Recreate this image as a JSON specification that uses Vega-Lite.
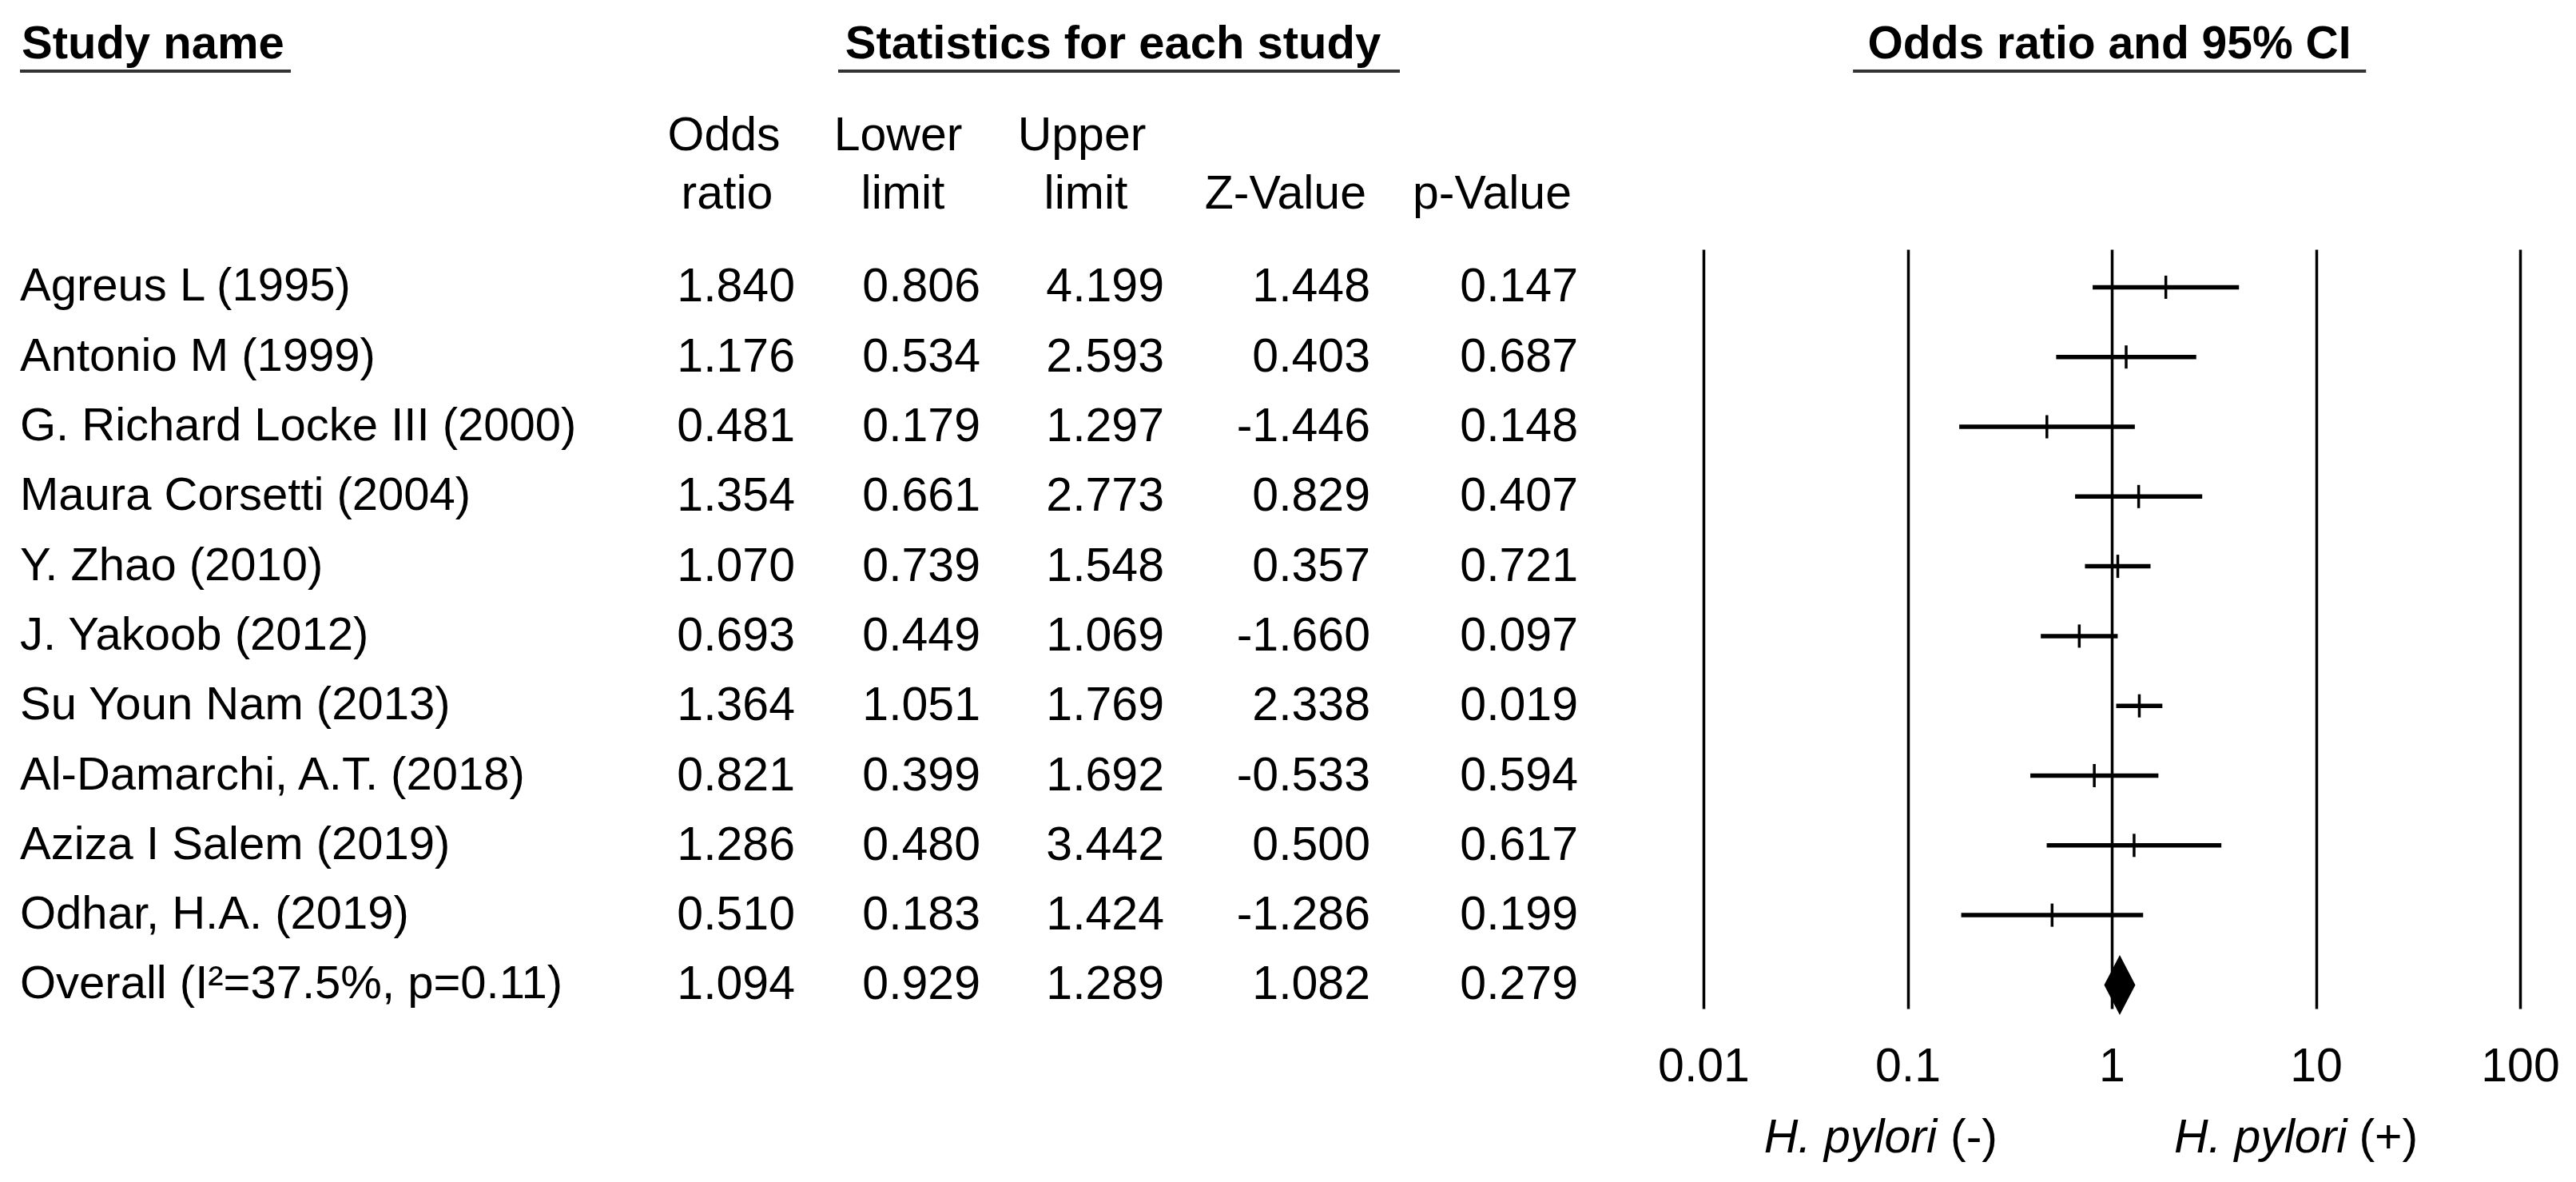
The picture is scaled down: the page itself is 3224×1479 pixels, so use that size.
{
  "$schema": "https://vega.github.io/schema/vega-lite/v6.json",
  "background": "white",
  "padding": {"left": 23, "top": 26, "right": 0, "bottom": 0},
  "config": {
    "view": {"stroke": null},
    "font": "Liberation Sans",
    "text": {"font": "Liberation Sans", "fontSize": 59, "color": "black"},
    "locale": {"number": {"decimal": ".", "thousands": ",", "grouping": [3], "currency": ["$", ""], "minus": "-"}}
  },
  "data": {"values": [
    {"row": 1, "study": "Agreus L (1995)", "or": 1.840, "lo": 0.806, "hi": 4.199, "z": 1.448, "p": 0.147, "type": "study"},
    {"row": 2, "study": "Antonio M (1999)", "or": 1.176, "lo": 0.534, "hi": 2.593, "z": 0.403, "p": 0.687, "type": "study"},
    {"row": 3, "study": "G. Richard Locke III (2000)", "or": 0.481, "lo": 0.179, "hi": 1.297, "z": -1.446, "p": 0.148, "type": "study"},
    {"row": 4, "study": "Maura Corsetti (2004)", "or": 1.354, "lo": 0.661, "hi": 2.773, "z": 0.829, "p": 0.407, "type": "study"},
    {"row": 5, "study": "Y. Zhao (2010)", "or": 1.070, "lo": 0.739, "hi": 1.548, "z": 0.357, "p": 0.721, "type": "study"},
    {"row": 6, "study": "J. Yakoob (2012)", "or": 0.693, "lo": 0.449, "hi": 1.069, "z": -1.660, "p": 0.097, "type": "study"},
    {"row": 7, "study": "Su Youn Nam (2013)", "or": 1.364, "lo": 1.051, "hi": 1.769, "z": 2.338, "p": 0.019, "type": "study"},
    {"row": 8, "study": "Al-Damarchi, A.T. (2018)", "or": 0.821, "lo": 0.399, "hi": 1.692, "z": -0.533, "p": 0.594, "type": "study"},
    {"row": 9, "study": "Aziza I Salem (2019)", "or": 1.286, "lo": 0.480, "hi": 3.442, "z": 0.500, "p": 0.617, "type": "study"},
    {"row": 10, "study": "Odhar, H.A. (2019)", "or": 0.510, "lo": 0.183, "hi": 1.424, "z": -1.286, "p": 0.199, "type": "study"},
    {"row": 11, "study": "Overall (I²=37.5%, p=0.11)", "or": 1.094, "lo": 0.929, "hi": 1.289, "z": 1.082, "p": 0.279, "type": "overall"}
  ]},
  "bounds": "flush",
  "spacing": 0,
  "hconcat": [
    {
      "width": 339, "height": 950,
      "layer": [
        {"mark": {"type": "text", "align": "left", "baseline": "middle", "fontSize": 58},
         "encoding": {"x": {"value": 0},
                      "y": {"field": "row", "type": "quantitative", "scale": {"domain": [0.457, 11.339], "reverse": true, "nice": false, "zero": false}, "axis": null},
                      "text": {"field": "study", "type": "nominal"}}},
        {"data": {"values": [{}]},
         "mark": {"type": "text", "align": "left", "baseline": "middle", "fontWeight": "bold", "fontSize": 58, "dx": 2},
         "encoding": {"x": {"value": 0}, "y": {"datum": -2.481}, "text": {"value": "Study name"}}},
        {"data": {"values": [{}]},
         "mark": {"type": "rule", "strokeWidth": 4, "color": "#333333"},
         "encoding": {"x": {"value": 0}, "x2": {"value": "width"}, "y": {"datum": -2.097}}}
      ]
    },
    {
      "width": 631, "height": 950,
      "layer": [
        {"mark": {"type": "text", "align": "right", "baseline": "middle"},
         "encoding": {"x": {"value": "width"},
                      "y": {"field": "row", "type": "quantitative", "scale": {"domain": [0.457, 11.339], "reverse": true, "nice": false, "zero": false}, "axis": null},
                      "text": {"field": "or", "type": "quantitative", "format": ".3f"}}},
        {"data": {"values": [{}]},
         "mark": {"type": "text", "align": "center", "baseline": "middle", "dx": -89},
         "encoding": {"x": {"value": "width"}, "y": {"datum": -1.170}, "text": {"value": "Odds"}}},
        {"data": {"values": [{}]},
         "mark": {"type": "text", "align": "center", "baseline": "middle", "dx": -85},
         "encoding": {"x": {"value": "width"}, "y": {"datum": -0.333}, "text": {"value": "ratio"}}}
      ]
    },
    {
      "width": 232, "height": 950,
      "layer": [
        {"mark": {"type": "text", "align": "right", "baseline": "middle"},
         "encoding": {"x": {"value": "width"},
                      "y": {"field": "row", "type": "quantitative", "scale": {"domain": [0.457, 11.339], "reverse": true, "nice": false, "zero": false}, "axis": null},
                      "text": {"field": "lo", "type": "quantitative", "format": ".3f"}}},
        {"data": {"values": [{}]},
         "mark": {"type": "text", "align": "center", "baseline": "middle", "dx": -103},
         "encoding": {"x": {"value": "width"}, "y": {"datum": -1.170}, "text": {"value": "Lower"}}},
        {"data": {"values": [{}]},
         "mark": {"type": "text", "align": "center", "baseline": "middle", "dx": -97},
         "encoding": {"x": {"value": "width"}, "y": {"datum": -0.333}, "text": {"value": "limit"}}}
      ]
    },
    {
      "width": 230, "height": 950,
      "layer": [
        {"mark": {"type": "text", "align": "right", "baseline": "middle"},
         "encoding": {"x": {"value": "width"},
                      "y": {"field": "row", "type": "quantitative", "scale": {"domain": [0.457, 11.339], "reverse": true, "nice": false, "zero": false}, "axis": null},
                      "text": {"field": "hi", "type": "quantitative", "format": ".3f"}}},
        {"data": {"values": [{}]},
         "mark": {"type": "text", "align": "center", "baseline": "middle", "dx": -103},
         "encoding": {"x": {"value": "width"}, "y": {"datum": -1.170}, "text": {"value": "Upper"}}},
        {"data": {"values": [{}]},
         "mark": {"type": "text", "align": "center", "baseline": "middle", "dx": -98},
         "encoding": {"x": {"value": "width"}, "y": {"datum": -0.333}, "text": {"value": "limit"}}},
        {"data": {"values": [{}]},
         "mark": {"type": "text", "align": "center", "baseline": "middle", "fontWeight": "bold", "fontSize": 58, "dx": -64},
         "encoding": {"x": {"value": "width"}, "y": {"datum": -2.481}, "text": {"value": "Statistics for each study"}}},
        {"data": {"values": [{}]},
         "mark": {"type": "rule", "strokeWidth": 4, "color": "#333333", "xOffset": -178, "x2Offset": 295},
         "encoding": {"x": {"value": 0}, "x2": {"value": "width"}, "y": {"datum": -2.097}}}
      ]
    },
    {
      "width": 258, "height": 950,
      "layer": [
        {"mark": {"type": "text", "align": "right", "baseline": "middle"},
         "encoding": {"x": {"value": "width"},
                      "y": {"field": "row", "type": "quantitative", "scale": {"domain": [0.457, 11.339], "reverse": true, "nice": false, "zero": false}, "axis": null},
                      "text": {"field": "z", "type": "quantitative", "format": ".3f"}}},
        {"data": {"values": [{}]},
         "mark": {"type": "text", "align": "right", "baseline": "middle", "dx": -5},
         "encoding": {"x": {"value": "width"}, "y": {"datum": -0.333}, "text": {"value": "Z-Value"}}}
      ]
    },
    {
      "width": 260, "height": 950,
      "layer": [
        {"mark": {"type": "text", "align": "right", "baseline": "middle"},
         "encoding": {"x": {"value": "width"},
                      "y": {"field": "row", "type": "quantitative", "scale": {"domain": [0.457, 11.339], "reverse": true, "nice": false, "zero": false}, "axis": null},
                      "text": {"field": "p", "type": "quantitative", "format": ".3f"}}},
        {"data": {"values": [{}]},
         "mark": {"type": "text", "align": "right", "baseline": "middle", "dx": -8},
         "encoding": {"x": {"value": "width"}, "y": {"datum": -0.333}, "text": {"value": "p-Value"}}}
      ]
    },
    {
      "width": 1179, "height": 950,
      "layer": [
        {"transform": [{"filter": "datum.type == 'study'"}],
         "mark": {"type": "rule", "strokeWidth": 5.5, "color": "black"},
         "encoding": {
           "x": {"field": "lo", "type": "quantitative",
                 "scale": {"type": "log", "domain": [0.002429, 100], "nice": false},
                 "axis": {"orient": "bottom", "values": [0.01, 0.1, 1, 10, 100], "format": "~g", "title": null,
                          "grid": true, "gridColor": "black", "gridWidth": 3.5, "gridOpacity": 1,
                          "domain": false, "ticks": false, "tickSize": 0,
                          "labelFont": "Liberation Sans", "labelFontSize": 59, "labelColor": "black",
                          "labelPadding": 43, "labelFlush": false, "labelOverlap": false}},
           "x2": {"field": "hi"},
           "y": {"field": "row", "type": "quantitative", "scale": {"domain": [0.457, 11.339], "reverse": true, "nice": false, "zero": false}, "axis": null}}},
        {"transform": [{"filter": "datum.type == 'study'"}],
         "mark": {"type": "tick", "orient": "vertical", "size": 29, "thickness": 3.5, "color": "black", "opacity": 1},
         "encoding": {"x": {"field": "or", "type": "quantitative"}, "y": {"field": "row", "type": "quantitative"}}},
        {"transform": [{"filter": "datum.type == 'overall'"}],
         "mark": {"type": "point", "shape": "M0,-1L0.52,0L0,1L-0.52,0Z", "size": 5625, "filled": true, "color": "black", "opacity": 1},
         "encoding": {"x": {"field": "or", "type": "quantitative"}, "y": {"field": "row", "type": "quantitative"}}},
        {"data": {"values": [{}]},
         "mark": {"type": "text", "align": "center", "baseline": "middle", "fontWeight": "bold", "fontSize": 57, "dx": -3},
         "encoding": {"x": {"datum": 1}, "y": {"datum": -2.481}, "text": {"value": "Odds ratio and 95% CI"}}},
        {"data": {"values": [{}]},
         "mark": {"type": "rule", "strokeWidth": 4, "color": "#333333"},
         "encoding": {"x": {"datum": 0.054}, "x2": {"datum": 17.6}, "y": {"datum": -2.097}}},
        {"data": {"values": [{}]},
         "mark": {"type": "text", "align": "right", "baseline": "middle", "fontStyle": "italic"},
         "encoding": {"x": {"datum": 0.139}, "y": {"datum": 13.199}, "text": {"value": "H. pylori"}}},
        {"data": {"values": [{}]},
         "mark": {"type": "text", "align": "left", "baseline": "middle", "dx": 17},
         "encoding": {"x": {"datum": 0.139}, "y": {"datum": 13.199}, "text": {"value": "(-)"}}},
        {"data": {"values": [{}]},
         "mark": {"type": "text", "align": "right", "baseline": "middle", "fontStyle": "italic"},
         "encoding": {"x": {"datum": 14.2}, "y": {"datum": 13.199}, "text": {"value": "H. pylori"}}},
        {"data": {"values": [{}]},
         "mark": {"type": "text", "align": "left", "baseline": "middle", "dx": 15},
         "encoding": {"x": {"datum": 14.2}, "y": {"datum": 13.199}, "text": {"value": "(+)"}}}
      ]
    }
  ]
}
